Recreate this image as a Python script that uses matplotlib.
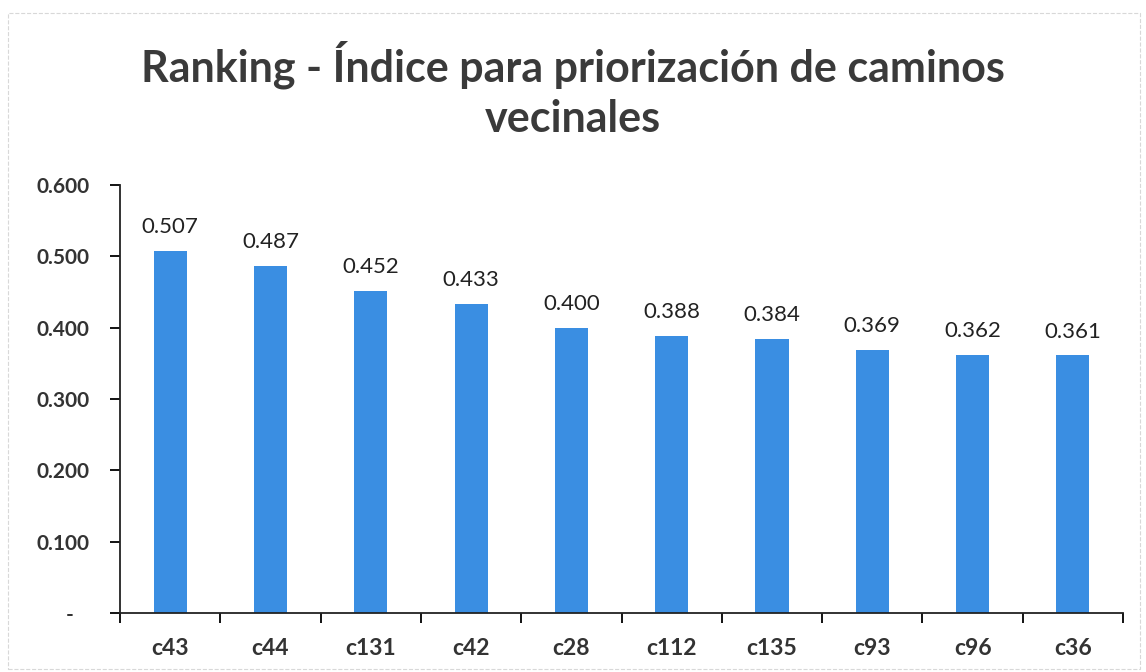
import matplotlib.pyplot as plt
import numpy as np

caminos = ['c43', 'c44', 'c131', 'c42', 'c28', 'c112', 'c135', 'c93', 'c96', 'c36']
indice = [0.507, 0.487, 0.452, 0.433, 0.400, 0.388, 0.384, 0.369, 0.362, 0.361]
y_ticks = [0.0, 0.1, 0.2, 0.3, 0.4, 0.5, 0.6]
y_labels = ['-   ', '0.100', '0.200', '0.300', '0.400', '0.500', '0.600']

title = 'Ranking - Índice para priorización de caminos\nvecinales'
font = ['Lato', 'DejaVu Sans']
bar_color = '#3a8ee2'

fig = plt.figure(figsize=(11.46, 6.72), dpi=100)
ax = fig.add_axes([0.1047, 0.0878, 0.8753, 0.6369])

x = np.arange(len(caminos))
bars = ax.bar(x, indice, width=0.33, color=bar_color)

for b, v in zip(bars, indice):
    ax.annotate(f'{v:.3f}', (b.get_x() + b.get_width() / 2, v),
                xytext=(0, 10), textcoords='offset points',
                ha='center', va='bottom', fontsize=16, family=font, color='#222222')

ax.set_xlim(-0.5, len(caminos) - 0.5)
ax.set_ylim(0, 0.6)

# category separators as major ticks, names on minor ticks
ax.set_xticks(np.arange(-0.5, len(caminos)), labels=[])
ax.set_xticks(x, labels=caminos, minor=True)
ax.tick_params(axis='x', which='major', length=7, width=1.3, direction='out')
ax.tick_params(axis='x', which='minor', length=0, pad=18)
for lbl in ax.get_xticklabels(minor=True):
    lbl.set_fontsize(16.5)
    lbl.set_fontweight('bold')
    lbl.set_family(font)
    lbl.set_color('#333333')

ax.set_yticks(y_ticks, labels=y_labels)
ax.tick_params(axis='y', length=7, width=1.3, direction='out', pad=15)
for lbl in ax.get_yticklabels():
    lbl.set_fontsize(15)
    lbl.set_fontweight('bold')
    lbl.set_family(font)
    lbl.set_color('#333333')

for side in ['top', 'right']:
    ax.spines[side].set_visible(False)
for side in ['left', 'bottom']:
    ax.spines[side].set_linewidth(1.3)
    ax.spines[side].set_color('#222222')

fig.text(0.5, 0.94, title, ha='center', va='top', fontsize=31,
         fontweight='bold', family=font, color='#3a3a3a', linespacing=1.3)

# light page border
fig.patches.append(plt.Rectangle((0.007, 0.005), 0.988, 0.975, transform=fig.transFigure,
                                 fill=False, edgecolor='#d8d8d8', linestyle='--', linewidth=0.8))

fig.savefig('out.png', dpi=100)
